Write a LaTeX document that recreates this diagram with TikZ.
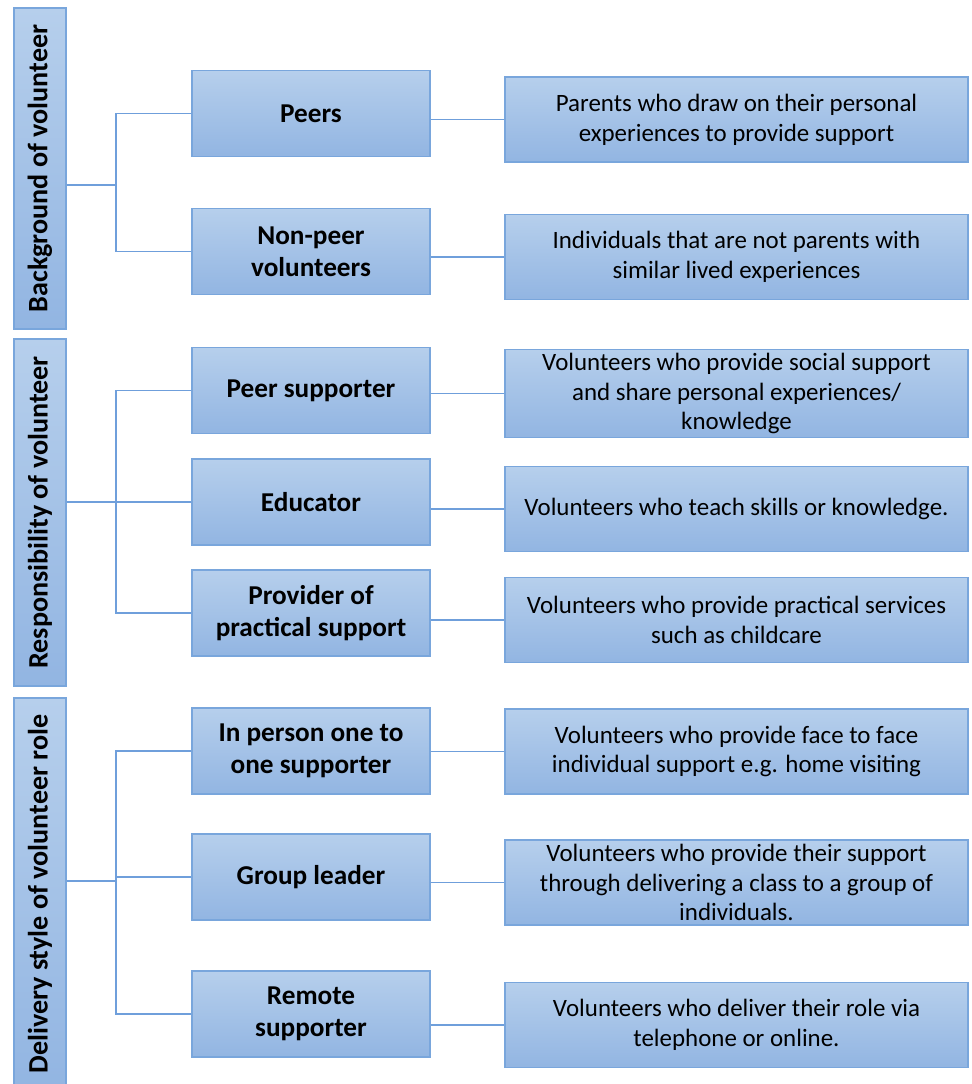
\documentclass[tikz,border=0pt]{standalone}
\usepackage{fontspec}
\setmainfont{Carlito}
\definecolor{boxtop}{HTML}{B6CFEC}
\definecolor{boxbot}{HTML}{92B5E2}
\definecolor{boxline}{HTML}{79A6DC}
\definecolor{linkline}{HTML}{6F9FDB}
\begin{document}
\begin{tikzpicture}[x=0.02cm,y=-0.02cm,
  base/.style={draw=boxline,line width=0.9pt,top color=boxtop,bottom color=boxbot,
    inner sep=2pt,align=center,font=\fontsize{14.2}{17}\selectfont},
  catbox/.style={base,rotate=90,minimum height=1.04cm,font=\fontsize{16}{18}\selectfont\bfseries},
  rolebox/.style={base,minimum width=4.76cm,minimum height=1.72cm,font=\fontsize{15.5}{18}\selectfont\bfseries},
  descbox/.style={base,minimum width=9.26cm,minimum height=1.7cm},
  link/.style={draw=linkline,line width=1.1pt}]
\useasboundingbox (0,0) rectangle (971,1084);
\clip (0,0) rectangle (971,1084);
% left column
\node[catbox,minimum width=6.42cm] (bg) at (40,168.5) {Background of volunteer};
\node[catbox,minimum width=6.94cm] (resp) at (40,512.5) {Responsibility of volunteer};
\node[catbox,minimum width=7.84cm] (deliv) at (40,894) {Delivery style of volunteer role};
% middle column
\node[rolebox] (peers) at (311,113.5) {Peers};
\node[rolebox] (nonpeer) at (311,251.5) {Non-peer\\volunteers};
\node[rolebox] (peersup) at (311,390.5) {Peer supporter};
\node[rolebox] (educ) at (311,502) {Educator};
\node[rolebox] (prov) at (311,613) {Provider of\\practical support};
\node[rolebox] (inperson) at (311,751) {In person one to\\one supporter};
\node[rolebox] (group) at (311,877) {Group leader};
\node[rolebox] (remote) at (311,1014) {Remote\\supporter};
% right column
\node[descbox] (parents) at (736.5,119.5) {Parents who draw on their personal\\experiences to provide support};
\node[descbox] (indiv) at (736.5,257) {Individuals that are not parents with\\similar lived experiences};
\node[descbox] (social) at (736.5,393.5) {Volunteers who provide social support\\and share personal experiences/\\knowledge};
\node[descbox] (teach) at (736.5,509) {Volunteers who teach skills or knowledge.};
\node[descbox] (pract) at (736.5,620) {Volunteers who provide practical services\\such as childcare};
\node[descbox] (face) at (736.5,751.5) {Volunteers who provide face to face\\individual support e.g. home visiting};
\node[descbox] (class) at (736.5,882.5) {Volunteers who provide their support\\through delivering a class to a group of\\individuals.};
\node[descbox] (phone) at (736.5,1025) {Volunteers who deliver their role via\\telephone or online.};
% trunks
\coordinate (t1) at (116,185);
\coordinate (t2) at (116,502);
\coordinate (t3) at (116,881);
\draw[link] (bg.south |- t1) -- (t1);
\draw[link] (peers.west) -| (t1) |- (nonpeer.west);
\draw[link] (resp.south |- t2) -- (t2);
\draw[link] (peersup.west) -| (t2) |- (prov.west);
\draw[link] (educ.west) -- (educ.west -| t2);
\draw[link] (deliv.south |- t3) -- (t3);
\draw[link] (inperson.west) -| (t3) |- (remote.west);
\draw[link] (group.west) -- (group.west -| t3);
% middle to right
\foreach \a/\b in {peers/parents,nonpeer/indiv,peersup/social,educ/teach,prov/pract,inperson/face,group/class,remote/phone}
  \draw[link] (\a.east |- \b.west) -- (\b.west);
\end{tikzpicture}
\end{document}
